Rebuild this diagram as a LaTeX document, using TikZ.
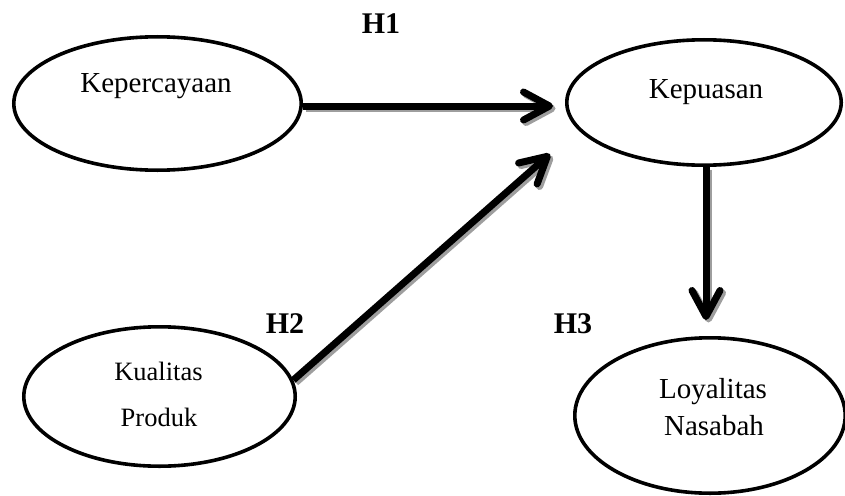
\documentclass[tikz,border=0pt]{standalone}
\usepackage{fontspec}
\setmainfont{Liberation Serif}
\usetikzlibrary{shapes.geometric,arrows.meta}
\begin{document}
\begin{tikzpicture}[x=1pt,y=-1pt,
  var/.style={ellipse, draw, line width=3.6pt, inner sep=0pt},
  lbl/.style={anchor=base, inner sep=0pt, font=\fontsize{29}{29}\selectfont},
  lblsmall/.style={anchor=base, inner sep=0pt, font=\fontsize{26.5}{26.5}\selectfont},
  hyp/.style={anchor=base, inner sep=0pt, font=\fontsize{30}{30}\selectfont\bfseries},
  link/.style={line width=7pt, draw=black,
    -{Straight Barb[length=26pt,width=28pt,line cap=round,line join=round]}},
  linkshadow/.style={link, draw=black!38,
    transform canvas={shift={(2.5pt,-2.5pt)}}}]
\useasboundingbox (0,0) rectangle (845,495);
% variables
\node[var, minimum width=287.4pt, minimum height=133.4pt] (kpc) at (157.5,103.5) {};
\node[var, minimum width=274.4pt, minimum height=125.4pt] (kps) at (704,102.5) {};
\node[var, minimum width=271.4pt, minimum height=139.4pt] (kq) at (159.5,396.5) {};
\node[var, minimum width=270.4pt, minimum height=155.4pt] (loy) at (710,415.5) {};
% texts
\node[lbl] (tkpc) at (156,92) {Kepercayaan};
\node[lbl] (tkps) at (706,98) {Kepuasan};
\node[lblsmall] (tkq1) at (158.5,380) {Kualitas};
\node[lblsmall] (tkq2) at (159,426) {Produk};
\node[lbl] (tloy1) at (713,398) {Loyalitas};
\node[lbl] (tloy2) at (714,435) {Nasabah};
% hypotheses
\node[hyp] (h1) at (381,34) {H1};
\node[hyp] (h2) at (285,333) {H2};
\node[hyp] (h3) at (573,333) {H3};
% arrow tips
\coordinate (t1) at (553,106);
\coordinate (t2) at (550,154);
\coordinate (t3) at (706,320);
% shadows
\draw[linkshadow] (kpc.east |- t1) -- (t1);
\draw[linkshadow] (kq.7.8) -- (t2);
\draw[linkshadow] (kps.south -| t3) -- (t3);
% arrows
\draw[link] (kpc.east |- t1) -- (t1);
\draw[link] (kq.7.8) -- (t2);
\draw[link] (kps.south -| t3) -- (t3);
\end{tikzpicture}
\end{document}
